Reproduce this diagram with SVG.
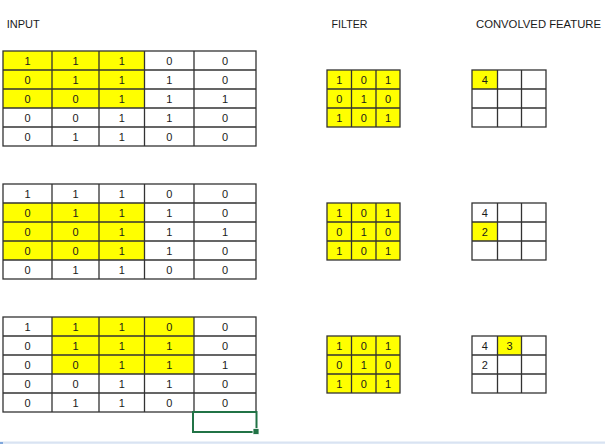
<svg xmlns="http://www.w3.org/2000/svg" width="605" height="444" viewBox="0 0 605 444">
<style>
.lbl{font-family:"Liberation Sans",Arial,sans-serif;font-size:11.5px;fill:#1a1a1a}
.n{font-family:"Liberation Sans",Arial,sans-serif;font-size:11px;fill:#1a1a1a;text-anchor:middle}
.hl{fill:#ffff00}
.g{fill:none;stroke:#333;stroke-width:1.3}
</style>
<rect width="605" height="444" fill="#fff"/>
<g id="labels">
<text class="lbl" x="6.7" y="27.5" textLength="33" lengthAdjust="spacingAndGlyphs">INPUT</text>
<text class="lbl" x="331.5" y="27.5" textLength="36" lengthAdjust="spacingAndGlyphs">FILTER</text>
<text class="lbl" x="476" y="27.5" textLength="125" lengthAdjust="spacingAndGlyphs">CONVOLVED FEATURE</text>
</g>

<g id="input1">
<rect class="hl" x="3" y="51" width="141.5" height="57"/>
<rect class="g" x="3" y="51" width="253" height="95"/>
<path class="g" d="M52 51V146M99 51V146M144.5 51V146M194 51V146M3 70H256M3 89H256M3 108H256M3 127H256"/>
<text class="n" x="27.5" y="64.5">1</text><text class="n" x="75.5" y="64.5">1</text><text class="n" x="121.75" y="64.5">1</text><text class="n" x="169.25" y="64.5">0</text><text class="n" x="225" y="64.5">0</text>
<text class="n" x="27.5" y="83.5">0</text><text class="n" x="75.5" y="83.5">1</text><text class="n" x="121.75" y="83.5">1</text><text class="n" x="169.25" y="83.5">1</text><text class="n" x="225" y="83.5">0</text>
<text class="n" x="27.5" y="102.5">0</text><text class="n" x="75.5" y="102.5">0</text><text class="n" x="121.75" y="102.5">1</text><text class="n" x="169.25" y="102.5">1</text><text class="n" x="225" y="102.5">1</text>
<text class="n" x="27.5" y="121.5">0</text><text class="n" x="75.5" y="121.5">0</text><text class="n" x="121.75" y="121.5">1</text><text class="n" x="169.25" y="121.5">1</text><text class="n" x="225" y="121.5">0</text>
<text class="n" x="27.5" y="140.5">0</text><text class="n" x="75.5" y="140.5">1</text><text class="n" x="121.75" y="140.5">1</text><text class="n" x="169.25" y="140.5">0</text><text class="n" x="225" y="140.5">0</text>
</g>

<g id="filter1">
<rect class="hl" x="327" y="70" width="73" height="57"/>
<rect class="g" x="327" y="70" width="73" height="57"/>
<path class="g" d="M351.5 70V127M376 70V127M327 89H400M327 108H400"/>
<text class="n" x="339.25" y="83.5">1</text><text class="n" x="363.75" y="83.5">0</text><text class="n" x="388" y="83.5">1</text>
<text class="n" x="339.25" y="102.5">0</text><text class="n" x="363.75" y="102.5">1</text><text class="n" x="388" y="102.5">0</text>
<text class="n" x="339.25" y="121.5">1</text><text class="n" x="363.75" y="121.5">0</text><text class="n" x="388" y="121.5">1</text>
</g>

<g id="conv1">
<rect class="hl" x="472" y="70" width="25.5" height="19"/>
<rect class="g" x="472" y="70" width="74" height="57"/>
<path class="g" d="M497.5 70V127M521.5 70V127M472 89H546M472 108H546"/>
<text class="n" x="484.75" y="83.5">4</text>
</g>

<g id="input2">
<rect class="hl" x="3" y="203" width="141.5" height="57"/>
<rect class="g" x="3" y="184" width="253" height="95"/>
<path class="g" d="M52 184V279M99 184V279M144.5 184V279M194 184V279M3 203H256M3 222H256M3 241H256M3 260H256"/>
<text class="n" x="27.5" y="197.5">1</text><text class="n" x="75.5" y="197.5">1</text><text class="n" x="121.75" y="197.5">1</text><text class="n" x="169.25" y="197.5">0</text><text class="n" x="225" y="197.5">0</text>
<text class="n" x="27.5" y="216.5">0</text><text class="n" x="75.5" y="216.5">1</text><text class="n" x="121.75" y="216.5">1</text><text class="n" x="169.25" y="216.5">1</text><text class="n" x="225" y="216.5">0</text>
<text class="n" x="27.5" y="235.5">0</text><text class="n" x="75.5" y="235.5">0</text><text class="n" x="121.75" y="235.5">1</text><text class="n" x="169.25" y="235.5">1</text><text class="n" x="225" y="235.5">1</text>
<text class="n" x="27.5" y="254.5">0</text><text class="n" x="75.5" y="254.5">0</text><text class="n" x="121.75" y="254.5">1</text><text class="n" x="169.25" y="254.5">1</text><text class="n" x="225" y="254.5">0</text>
<text class="n" x="27.5" y="273.5">0</text><text class="n" x="75.5" y="273.5">1</text><text class="n" x="121.75" y="273.5">1</text><text class="n" x="169.25" y="273.5">0</text><text class="n" x="225" y="273.5">0</text>
</g>

<g id="filter2">
<rect class="hl" x="327" y="203" width="73" height="57"/>
<rect class="g" x="327" y="203" width="73" height="57"/>
<path class="g" d="M351.5 203V260M376 203V260M327 222H400M327 241H400"/>
<text class="n" x="339.25" y="216.5">1</text><text class="n" x="363.75" y="216.5">0</text><text class="n" x="388" y="216.5">1</text>
<text class="n" x="339.25" y="235.5">0</text><text class="n" x="363.75" y="235.5">1</text><text class="n" x="388" y="235.5">0</text>
<text class="n" x="339.25" y="254.5">1</text><text class="n" x="363.75" y="254.5">0</text><text class="n" x="388" y="254.5">1</text>
</g>

<g id="conv2">
<rect class="hl" x="472" y="222" width="25.5" height="19"/>
<rect class="g" x="472" y="203" width="74" height="57"/>
<path class="g" d="M497.5 203V260M521.5 203V260M472 222H546M472 241H546"/>
<text class="n" x="484.75" y="216.5">4</text>
<text class="n" x="484.75" y="235.5">2</text>
</g>

<g id="input3">
<rect class="hl" x="52" y="317" width="142" height="57"/>
<rect class="g" x="3" y="317" width="253" height="95"/>
<path class="g" d="M52 317V412M99 317V412M144.5 317V412M194 317V412M3 336H256M3 355H256M3 374H256M3 393H256"/>
<text class="n" x="27.5" y="330.5">1</text><text class="n" x="75.5" y="330.5">1</text><text class="n" x="121.75" y="330.5">1</text><text class="n" x="169.25" y="330.5">0</text><text class="n" x="225" y="330.5">0</text>
<text class="n" x="27.5" y="349.5">0</text><text class="n" x="75.5" y="349.5">1</text><text class="n" x="121.75" y="349.5">1</text><text class="n" x="169.25" y="349.5">1</text><text class="n" x="225" y="349.5">0</text>
<text class="n" x="27.5" y="368.5">0</text><text class="n" x="75.5" y="368.5">0</text><text class="n" x="121.75" y="368.5">1</text><text class="n" x="169.25" y="368.5">1</text><text class="n" x="225" y="368.5">1</text>
<text class="n" x="27.5" y="387.5">0</text><text class="n" x="75.5" y="387.5">0</text><text class="n" x="121.75" y="387.5">1</text><text class="n" x="169.25" y="387.5">1</text><text class="n" x="225" y="387.5">0</text>
<text class="n" x="27.5" y="406.5">0</text><text class="n" x="75.5" y="406.5">1</text><text class="n" x="121.75" y="406.5">1</text><text class="n" x="169.25" y="406.5">0</text><text class="n" x="225" y="406.5">0</text>
</g>

<g id="filter3">
<rect class="hl" x="327" y="336" width="73" height="57"/>
<rect class="g" x="327" y="336" width="73" height="57"/>
<path class="g" d="M351.5 336V393M376 336V393M327 355H400M327 374H400"/>
<text class="n" x="339.25" y="349.5">1</text><text class="n" x="363.75" y="349.5">0</text><text class="n" x="388" y="349.5">1</text>
<text class="n" x="339.25" y="368.5">0</text><text class="n" x="363.75" y="368.5">1</text><text class="n" x="388" y="368.5">0</text>
<text class="n" x="339.25" y="387.5">1</text><text class="n" x="363.75" y="387.5">0</text><text class="n" x="388" y="387.5">1</text>
</g>

<g id="conv3">
<rect class="hl" x="497.5" y="336" width="24" height="19"/>
<rect class="g" x="472" y="336" width="74" height="57"/>
<path class="g" d="M497.5 336V393M521.5 336V393M472 355H546M472 374H546"/>
<text class="n" x="484.75" y="349.5">4</text>
<text class="n" x="509.5" y="349.5">3</text>
<text class="n" x="484.75" y="368.5">2</text>
</g>

<g id="selection">
<rect x="193" y="412" width="63.5" height="20" fill="none" stroke="#217346" stroke-width="2"/>
<rect x="253" y="428.5" width="6" height="6" fill="#217346" stroke="#fff" stroke-width="0.8"/>
</g>

<g id="bottom-bar">
<rect x="0" y="442" width="605" height="2" fill="#e1eaf6"/>
<line x1="0" y1="442" x2="605" y2="442" stroke="#cddbee" stroke-width="0.8"/>
<rect x="0" y="442" width="3" height="2" fill="#7fa7dc"/>
</g>
</svg>
